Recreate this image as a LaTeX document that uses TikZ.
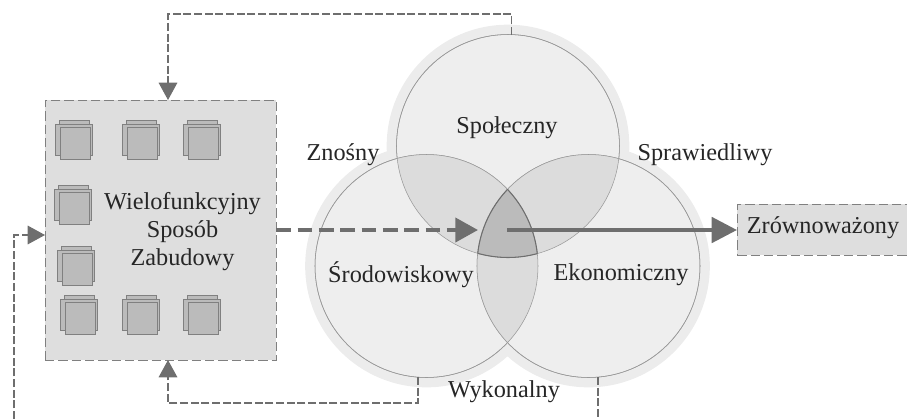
\documentclass[tikz,border=0pt]{standalone}
\usepackage{fontspec}
\setmainfont{Liberation Serif}
\usetikzlibrary{arrows.meta}
\definecolor{linegray}{HTML}{6E6E6E}
\definecolor{haloa}{HTML}{ECECEC}
\definecolor{petal}{HTML}{EEEEEE}
\definecolor{lens}{HTML}{DCDCDC}
\definecolor{core}{HTML}{BBBBBB}
\definecolor{boxfill}{HTML}{DEDEDE}
\tikzset{
  halo/.style={circle,fill=haloa,inner sep=0pt,minimum size=182pt},
  petalc/.style={circle,draw=gray!80,fill=petal,inner sep=0pt,minimum size=167.25pt},
  dashbox/.style={draw=gray,fill=boxfill,dashed,dash pattern=on 7pt off 3pt,inner sep=0pt,align=center},
  feedback/.style={draw=linegray,line width=0.8pt,dash pattern=on 6pt off 2pt},
  bigtip/.style={-{Triangle[length=13,width=14,fill=linegray]}},
  label/.style={inner sep=0pt,font=\fontsize{18.2}{21}\selectfont,text=black!85},
  sheet/.style={draw=gray,fill=core,line width=0.5pt}
}
\begin{document}
\begin{tikzpicture}[x=0.75pt,y=-0.75pt]
  \useasboundingbox (0,0) rectangle (907,419);

  % halos first, then the circles
  \foreach \x/\y in {508/146,426.5/266,588.5/266}
    \node[halo] at (\x,\y) {};
  \node[petalc] (social) at (508,146) {};
  \node[petalc] (enviro) at (426.5,266) {};
  \node[petalc] (econ) at (588.5,266) {};

  % overlaps
  \begin{scope}
    \clip (508,146) circle (111.5);
    \fill[lens] (426.5,266) circle (111.5);
    \fill[lens] (588.5,266) circle (111.5);
  \end{scope}
  \begin{scope}
    \clip (426.5,266) circle (111.5);
    \fill[lens] (588.5,266) circle (111.5);
  \end{scope}
  \begin{scope}
    \clip (508,146) circle (111.5);
    \clip (426.5,266) circle (111.5);
    \fill[core] (588.5,266) circle (111.5);
  \end{scope}
  \draw[gray!80] (508,146) circle (111.5);
  \draw[gray!80] (426.5,266) circle (111.5);
  \draw[gray!80] (588.5,266) circle (111.5);
  \begin{scope}
    \clip (508,146) circle (111.5);
    \clip (426.5,266) circle (111.5);
    \draw[linegray,thick] (588.5,266) circle (111.5);
  \end{scope}
  \begin{scope}
    \clip (508,146) circle (111.5);
    \clip (588.5,266) circle (111.5);
    \draw[linegray,thick] (426.5,266) circle (111.5);
  \end{scope}
  \begin{scope}
    \clip (426.5,266) circle (111.5);
    \clip (588.5,266) circle (111.5);
    \draw[linegray,thick] (508,146) circle (111.5);
  \end{scope}

  \node[dashbox,minimum width=173.25pt,minimum height=195pt] (blk) at (160.5,230) {};
  \node[dashbox,anchor=west,minimum width=127.5pt,minimum height=38pt] (goal) at (737,229.5) {};

  % building stacks
  \foreach \x/\y in {55/120,122/120,183/120,54/185,57/246,60/295,122/295,183/295} {
    \draw[sheet] (\x+4,\y) rectangle +(30,27);
    \draw[sheet] (\x,\y+4) rectangle +(37,31);
    \draw[sheet] (\x+5,\y+7) rectangle +(30,32);
  }

  \node[label,align=center] (blktext) at (182.5,232) {Wielofunkcyjny\\Sposób\\Zabudowy};
  \node[label] (goaltext) at (823,228) {Zrównoważony};
  \node[label] (sociallbl) at (507,128) {Społeczny};
  \node[label] (envirolbl) at (401,275) {Środowiskowy};
  \node[label] (econlbl) at (621,275) {Ekonomiczny};
  \node[label] (bearable) at (343,155) {Znośny};
  \node[label] (equitable) at (705,155) {Sprawiedliwy};
  \node[label] (viable) at (504,392) {Wykonalny};

  % feedback lines
  \coordinate (topbend) at (511.5,14);
  \coordinate (topleft) at (168,14);
  \coordinate (topin) at (168,100);
  \coordinate (botbend) at (418,403);
  \coordinate (botleft) at (168,403);
  \coordinate (botin) at (168,360);
  \coordinate (edgeleft) at (14,419);
  \coordinate (leftbend) at (14,235);
  \coordinate (leftin) at (45,235);
  \coordinate (edgeright) at (598,419);

  \draw[feedback,bigtip] (511.5,35) -- (topbend) -- (topleft) -- (topin);
  \draw[feedback,bigtip] (418,377) -- (botbend) -- (botleft) -- (botin);
  \draw[feedback,bigtip] (edgeleft) -- (leftbend) -- (leftin);
  \draw[feedback] (598,377) -- (edgeright);

  % main flow
  \coordinate (flowin) at (478,230);
  \coordinate (flowout) at (507,230);
  \draw[linegray,line width=3pt,dash pattern=on 11pt off 5pt,-{Triangle[length=17,width=18,fill=linegray]}] (blk.east |- flowin) -- (flowin);
  \draw[linegray,line width=3pt,-{Triangle[length=19,width=19,fill=linegray]}] (flowout) -- (goal.west |- flowout);
\end{tikzpicture}
\end{document}
